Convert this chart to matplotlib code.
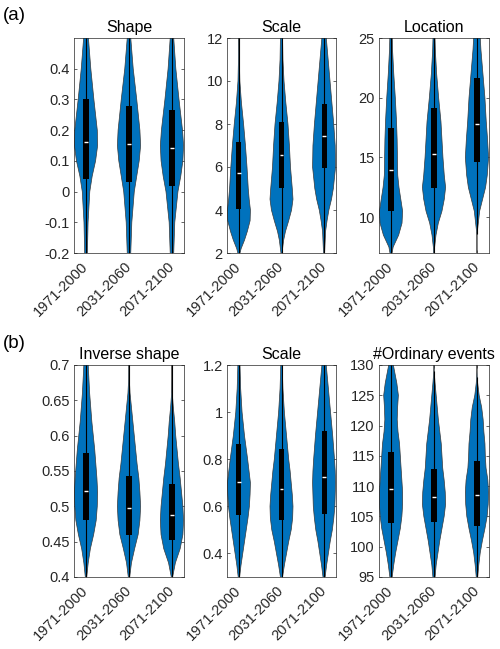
import numpy as np
import matplotlib
matplotlib.use("Agg")
import matplotlib.pyplot as plt
from matplotlib.patches import Rectangle
from matplotlib.ticker import FuncFormatter

plt.rcParams['font.family'] = ['Liberation Sans', 'DejaVu Sans']

periods = ["1971-2000", "2031-2060", "2071-2100"]

# ---------------- (a) Shape ----------------
shape_grid = [-0.25, -0.2, -0.1, 0.0, 0.05, 0.1, 0.15, 0.2, 0.3, 0.4, 0.5, 0.55]
shape_dens = [
    [2, 4, 6, 11, 18, 28, 34, 33, 23, 14, 7, 4],
    [2, 5, 8, 15, 22, 29, 33, 31, 22, 12, 5, 3],
    [2, 5, 8, 17, 25, 31, 33, 30, 20, 11, 5, 3],
]
shape_q1 = [0.042, 0.031, 0.017]
shape_med = [0.163, 0.154, 0.142]
shape_q3 = [0.30, 0.279, 0.265]
shape_wlo = [-0.25, -0.25, -0.25]
shape_whi = [0.55, 0.55, 0.55]

# ---------------- (a) Scale ----------------
scalea_grid = [1.8, 2.2, 2.6, 3.0, 3.5, 4.0, 4.5, 5.0, 6.0, 7.0, 8.0, 9.0, 10.0, 11.0, 12.0, 12.5]
scalea_dens = [
    [0, 7, 18, 27, 36, 37, 33, 30, 26, 21, 15, 8, 3, 1.5, 1, 0.5],
    [0, 3, 6, 11, 20, 28, 32, 30, 25, 22, 18, 12, 7, 4, 3, 2],
    [1, 2, 3, 4, 8, 13, 20, 25, 31, 30, 26, 21, 16, 11, 6, 4],
]
scalea_q1 = [4.06, 5.02, 5.95]
scalea_med = [5.7, 6.56, 7.43]
scalea_q3 = [7.16, 8.1, 8.91]
scalea_wlo = [1.9, 1.8, 1.8]
scalea_whi = [12.5, 12.5, 12.5]

# ---------------- (a) Location ----------------
loc_grid = [6.5, 7.5, 8.5, 9.5, 10.5, 11.5, 12.5, 13.5, 15, 16.5, 18, 20, 22, 24, 25, 26]
loc_dens = [
    [0, 7, 25, 36, 38, 32, 26, 22, 21, 20, 18, 14, 9, 5, 4, 3],
    [1, 2, 6, 13, 24, 31, 35, 31, 27, 24, 21, 14, 8, 4, 3, 2],
    [0, 0, 0, 4, 8, 17, 26, 31, 35, 32, 28, 24, 18, 12, 10, 8],
]
loc_q1 = [10.53, 12.44, 14.64]
loc_med = [13.97, 15.33, 17.78]
loc_q3 = [17.47, 19.1, 21.64]
loc_wlo = [6.6, 6.5, 8.6]
loc_whi = [26, 26, 26]

# ---------------- (b) Inverse shape ----------------
inv_grid = [0.39, 0.4, 0.42, 0.44, 0.46, 0.48, 0.5, 0.52, 0.54, 0.56, 0.58, 0.6, 0.62, 0.64, 0.66, 0.68, 0.7, 0.71]
inv_dens = [
    [1, 2, 6, 12, 21, 28, 31, 32, 30, 27, 24, 20, 16, 13, 10, 8, 6, 5],
    [1, 2, 7, 16, 26, 31, 33, 31, 28, 23, 19, 15, 11, 7, 3, 1, 0.5, 0],
    [1, 2, 10, 24, 32, 34, 32, 28, 24, 19, 15, 11, 8, 4, 1, 0, 0, 0],
]
inv_q1 = [0.481, 0.46, 0.453]
inv_med = [0.522, 0.497, 0.488]
inv_q3 = [0.575, 0.543, 0.532]
inv_wlo = [0.39, 0.39, 0.39]
inv_whi = [0.71, 0.71, 0.71]

# ---------------- (b) Scale ----------------
scaleb_grid = [0.28, 0.3, 0.35, 0.4, 0.45, 0.5, 0.55, 0.6, 0.65, 0.7, 0.75, 0.8, 0.9, 1.0, 1.1, 1.2, 1.25]
scaleb_dens = [
    [0, 2, 6, 11, 16, 21, 26, 30, 32, 33, 29, 25, 16, 9, 5, 3, 2],
    [0, 3, 8, 14, 20, 27, 31, 32, 30, 27, 24, 20, 14, 8, 4, 2, 1],
    [0, 3, 7, 12, 17, 23, 27, 30, 31, 32, 31, 29, 24, 18, 12, 6, 4],
]
scaleb_q1 = [0.562, 0.54, 0.568]
scaleb_med = [0.702, 0.674, 0.725]
scaleb_q3 = [0.864, 0.845, 0.921]
scaleb_wlo = [0.29, 0.29, 0.29]
scaleb_whi = [1.25, 1.25, 1.25]

# ---------------- (b) #Ordinary events ----------------
ord_grid = [94, 95, 97, 99, 101, 103, 105, 107, 109, 111, 113, 115, 117, 119, 121, 123, 125, 127, 129, 131]
ord_dens = [
    [0, 3, 7, 12, 18, 24, 28, 30, 30, 28, 26, 24, 22, 18, 16, 17, 19, 15, 9, 3],
    [1, 3, 6, 11, 16, 22, 28, 32, 31, 28, 24, 22, 20, 16, 12, 9, 6, 3, 0.5, 0],
    [1, 2, 5, 9, 15, 22, 28, 31, 32, 30, 25, 23, 22, 19, 17, 13, 6, 2, 0, 0],
]
ord_q1 = [103.99, 104.0, 103.5]
ord_med = [109.56, 108.14, 108.47]
ord_q3 = [115.68, 112.9, 114.15]
ord_wlo = [94, 94, 94]
ord_whi = [131, 129, 128]

panels = [
    ("Shape", shape_grid, shape_dens, shape_q1, shape_med, shape_q3, shape_wlo, shape_whi,
     (-0.2, 0.5), [-0.2, -0.1, 0, 0.1, 0.2, 0.3, 0.4]),
    ("Scale", scalea_grid, scalea_dens, scalea_q1, scalea_med, scalea_q3, scalea_wlo, scalea_whi,
     (2, 12), [2, 4, 6, 8, 10, 12]),
    ("Location", loc_grid, loc_dens, loc_q1, loc_med, loc_q3, loc_wlo, loc_whi,
     (7, 25), [10, 15, 20, 25]),
    ("Inverse shape", inv_grid, inv_dens, inv_q1, inv_med, inv_q3, inv_wlo, inv_whi,
     (0.4, 0.7), [0.4, 0.45, 0.5, 0.55, 0.6, 0.65, 0.7]),
    ("Scale", scaleb_grid, scaleb_dens, scaleb_q1, scaleb_med, scaleb_q3, scaleb_wlo, scaleb_whi,
     (0.3, 1.2), [0.4, 0.6, 0.8, 1.0, 1.2]),
    ("#Ordinary events", ord_grid, ord_dens, ord_q1, ord_med, ord_q3, ord_wlo, ord_whi,
     (95, 130), [95, 100, 105, 110, 115, 120, 125, 130]),
]

BLUE = '#0072BD'
EDGE = '#3a3a3a'
TXT = '#262626'
HALF = 0.27
BOXW = 0.12
MEDW = 0.09

W, H = 500, 649
fig = plt.figure(figsize=(W / 100, H / 100), dpi=100)

lefts = [74, 227, 379]
widths = [110, 109, 110]
rows = [(38, 253), (365, 577)]


def violin(ax, pos, grid, dens, q1, med, q3, wlo, whi):
    g = np.asarray(grid, float)
    d = np.asarray(dens, float)
    d = d / d.max() * HALF
    xs = np.concatenate([pos - d, (pos + d)[::-1]])
    ys = np.concatenate([g, g[::-1]])
    ax.fill(xs, ys, facecolor=BLUE, edgecolor=EDGE, linewidth=0.5, zorder=2)
    ax.plot([pos, pos], [wlo, whi], color='k', lw=0.8, zorder=3, solid_capstyle='butt')
    ax.add_patch(Rectangle((pos - BOXW / 2, q1), BOXW, q3 - q1, facecolor='k',
                           edgecolor='none', zorder=4))
    ax.plot([pos - MEDW / 2, pos + MEDW / 2], [med, med], color='w', lw=1.0, zorder=5,
            solid_capstyle='butt')


fmt = FuncFormatter(lambda v, p: ('%g' % round(v, 6)))

for i, (title, grid, dens, q1, med, q3, wlo, whi, ylim, yticks) in enumerate(panels):
    r, c = divmod(i, 3)
    top, bot = rows[r]
    ax = fig.add_axes([lefts[c] / W, 1 - bot / H, widths[c] / W, (bot - top) / H])
    for k in range(3):
        violin(ax, k + 1, grid, dens[k], q1[k], med[k], q3[k], wlo[k], whi[k])
    ax.set_xlim(0.72, 3.28)
    ax.set_ylim(*ylim)
    ax.set_yticks(yticks)
    ax.yaxis.set_major_formatter(fmt)
    ax.set_xticks([1, 2, 3])
    ax.set_xticklabels(periods, rotation=45, ha='right', va='center', rotation_mode='anchor')
    ax.tick_params(direction='in', length=2.5, width=0.5, color=TXT, right=True, top=True,
                   labelsize=10.5, labelcolor=TXT, pad=3)
    ax.tick_params(axis='x', pad=8)
    for s in ax.spines.values():
        s.set_color(TXT)
        s.set_linewidth(0.5)
        s.set_zorder(6)
    ax.set_title(title, fontsize=11.5, color='k', pad=4)

fig.text(3 / W, 1 - 15 / H, '(a)', fontsize=13.5, va='center', ha='left', color='k')
fig.text(3 / W, 1 - 343 / H, '(b)', fontsize=13.5, va='center', ha='left', color='k')

fig.savefig('out.png', dpi=100)
